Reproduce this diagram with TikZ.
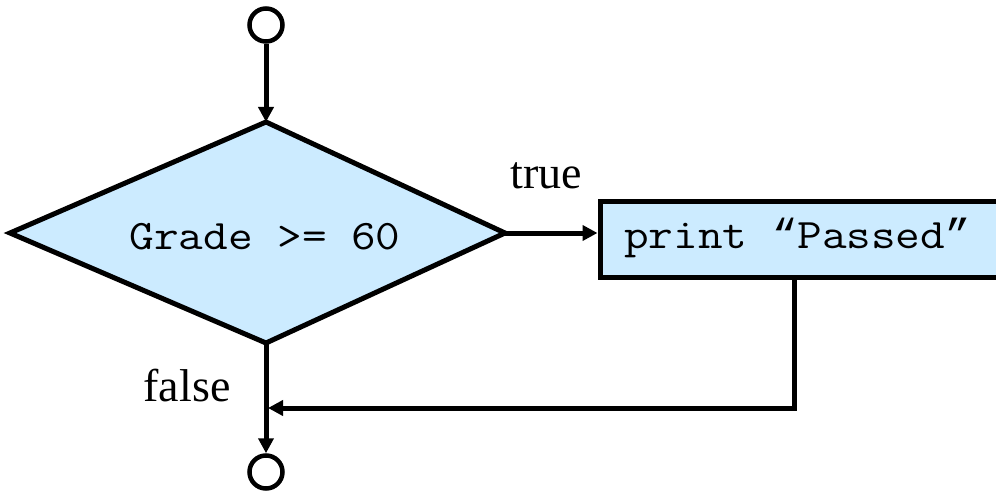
\documentclass[tikz,border=0pt]{standalone}
\usepackage{fontspec}
\setmainfont{Liberation Serif}
\setmonofont{Latin Modern Mono}[FakeStretch=1.14]
\newfontfamily\quotemono{Liberation Mono}
\usetikzlibrary{arrows.meta}
\definecolor{boxblue}{RGB}{204,235,255}
\tikzset{
  flowline/.style={line width=5pt},
  flowarrow/.style={flowline,-{Triangle[length=15pt,width=15pt]}},
  term/.style={circle,draw,line width=4.5pt,minimum size=33pt,inner sep=0pt},
  codetext/.style={font=\ttfamily\fontsize{42}{50}\selectfont,inner sep=0pt},
  labeltext/.style={font=\fontsize{46}{54}\selectfont,inner sep=0pt,anchor=base},
  actbox/.style={draw,fill=boxblue,line width=5pt,minimum width=400pt,minimum height=76pt,inner sep=0pt}
}
\begin{document}
\begin{tikzpicture}[x=1pt,y=-1pt]
\clip (0,0) rectangle (996,492);
\fill[white] (0,0) rectangle (996,492);
% decision diamond
\coordinate (dtop) at (266,122);
\coordinate (dright) at (505,233);
\coordinate (dbot) at (266,343);
\coordinate (dleft) at (10,233);
\draw[fill=boxblue,line width=5pt,line join=miter] (dtop) -- (dright) -- (dbot) -- (dleft) -- cycle;
\node[codetext,anchor=base] (cond) at (265,249) {Grade >= 60};
% action box
\node[actbox] (act) at (800,239) {};
\node[codetext,anchor=base west] (acttext) at (624,248) {print {\quotemono “}Passed{\quotemono ”}};
% terminals
\node[term] (start) at (266,25) {};
\node[term] (stop) at (266,472) {};
% labels
\node[labeltext] (truelbl) at (546,188) {true};
\node[labeltext] (falselbl) at (187,401) {false};
% connectors
\coordinate (actout) at ([xshift=-6pt]act.south);
\coordinate (corner) at (actout |- 0,408);
\coordinate (join) at (266,408);
\draw[flowarrow] (start) -- (dtop);
\draw[flowarrow] (dright) -- (act.west |- dright);
\draw[flowarrow] (dbot) -- (stop);
\draw[flowarrow,line join=miter] (actout) -- (corner) -- ([xshift=2pt]join);
\end{tikzpicture}
\end{document}
